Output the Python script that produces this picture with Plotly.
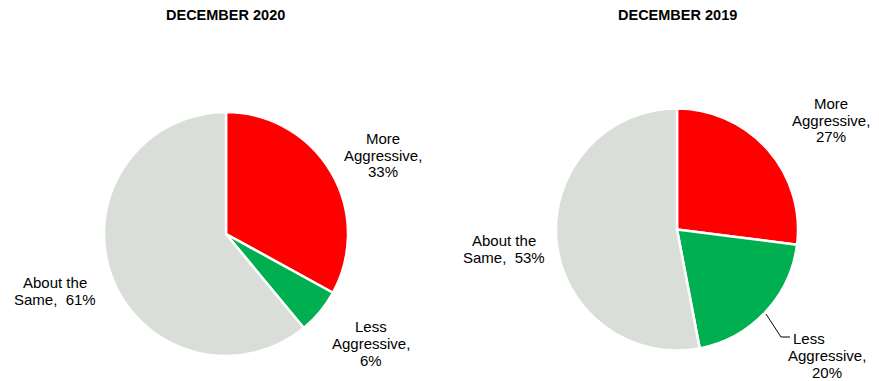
import plotly.graph_objects as go

categories = ["More Aggressive", "Less Aggressive", "About the Same"]
values_2020 = [33, 6, 61]
values_2019 = [27, 20, 53]
titles = ["DECEMBER 2020", "DECEMBER 2019"]
colors = ["#FF0000", "#00B050", "#D9DED8"]

W, H = 879, 381

def px_x(x):
    return x / W

def px_y(y):
    return 1 - y / H

fig = go.Figure()
for vals, dom in [
    (values_2020, dict(x=[px_x(104), px_x(348)], y=[px_y(356), px_y(112)])),
    (values_2019, dict(x=[px_x(556), px_x(798)], y=[px_y(351), px_y(108)])),
]:
    fig.add_trace(go.Pie(
        labels=categories, values=vals, sort=False, direction="clockwise",
        rotation=0, marker=dict(colors=colors, line=dict(color="white", width=2.5)),
        textinfo="none", hoverinfo="label+percent", domain=dom, showlegend=False,
    ))

font = dict(family="Liberation Sans, Arial, sans-serif", size=15, color="#000000")
ann = []
for t, x in zip(titles, [226, 677]):
    ann.append(dict(text="<b>%s</b>" % t, x=px_x(x), y=px_y(15), xref="paper", yref="paper",
                    showarrow=False, xanchor="center", yanchor="middle",
                    font=dict(family="Liberation Sans, Arial, sans-serif", size=14.5, color="#000")))

def label(lines, x, ys):
    for ln, y in zip(lines, ys):
        ann.append(dict(text=ln, x=px_x(x), y=px_y(y), xref="paper", yref="paper",
                        showarrow=False, xanchor="center", yanchor="middle", font=font))

label(["More", "Aggressive,", "%d%%" % values_2020[0]], 383, [138, 155, 172])
label(["Less", "Aggressive,", "%d%%" % values_2020[1]], 371, [326, 343, 360])
label(["About the", "Same,  %d%%" % values_2020[2]], 55, [282, 299])
label(["About the", "Same,  %d%%" % values_2019[2]], 504, [240, 257])
label(["More", "Aggressive,", "%d%%" % values_2019[0]], 831, [103, 120, 137])
ann.append(dict(text="Less", x=px_x(791), y=px_y(338), xref="paper", yref="paper",
                showarrow=False, xanchor="left", yanchor="middle", font=font))
label(["Aggressive,", "%d%%" % values_2019[1]], 827, [355, 372])

fig.update_layout(
    width=W, height=H, margin=dict(l=0, r=0, t=0, b=0),
    paper_bgcolor="white", plot_bgcolor="white",
    annotations=ann,
    shapes=[dict(type="path", xref="paper", yref="paper",
                 path="M %f %f L %f %f L %f %f" % (px_x(766), px_y(314), px_x(781), px_y(337), px_x(790), px_y(337)),
                 line=dict(color="black", width=1))],
)
fig.write_html("out.html")
